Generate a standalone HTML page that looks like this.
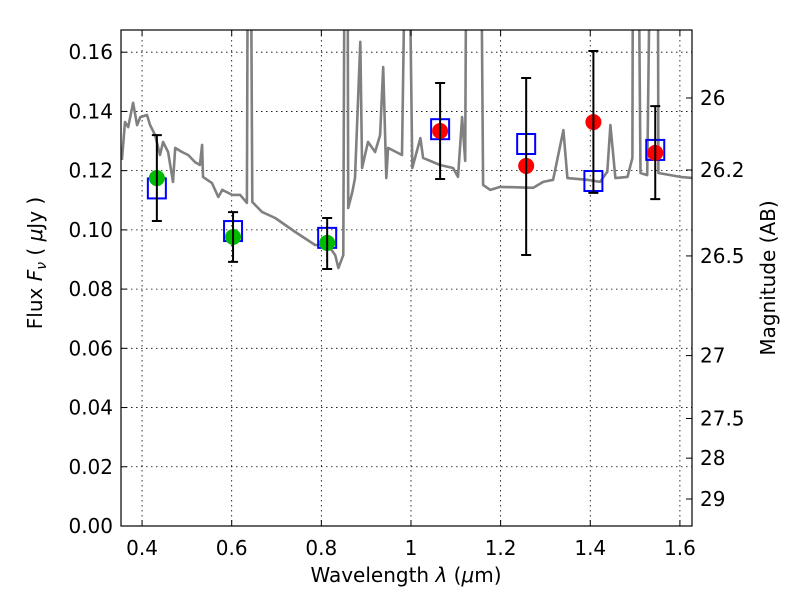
<!DOCTYPE html>
<html><head><meta charset="utf-8"><style>
body{margin:0;background:#fff;width:800px;height:600px;overflow:hidden}
svg text{font-family:"DejaVu Sans","Liberation Sans",sans-serif;font-size:20px;fill:#000}
</style></head><body>
<svg id="chart" width="800" height="600" xmlns="http://www.w3.org/2000/svg">
<defs><clipPath id="clip"><rect x="121" y="30" width="571" height="496"/></clipPath></defs>
<rect x="0" y="0" width="800" height="600" fill="#fff"/>
<g id="grid"></g>
<g id="spec" clip-path="url(#clip)"></g>
<g id="marks"></g>
<rect x="121" y="30" width="571" height="496" fill="none" stroke="#000" stroke-width="1.2"/>
<g id="axes"></g>
<text x="406" y="582" text-anchor="middle">Wavelength  <tspan font-style="italic">λ</tspan> (<tspan font-style="italic">μ</tspan>m)</text>
<text transform="translate(42,263) rotate(-90)" text-anchor="middle">Flux  <tspan font-style="italic">F</tspan><tspan font-style="italic" font-size="14" dy="4">ν</tspan><tspan dy="-4">  (  </tspan><tspan font-style="italic">μ</tspan>Jy )</text>
<text transform="translate(775,278) rotate(-90)" text-anchor="middle">Magnitude (AB)</text>
</svg>
<script>
const specWl=[0.355,0.362,0.369,0.380,0.389,0.396,0.411,0.418,0.429,0.440,0.447,0.458,0.469,0.474,0.489,0.503,0.518,0.529,0.534,0.536,0.556,0.570,0.579,0.601,0.619,0.634,0.637,0.641,0.646,0.668,0.697,0.742,0.786,0.815,0.831,0.838,0.849,0.853,0.858,0.860,0.869,0.875,0.887,0.891,0.904,0.920,0.931,0.938,0.945,0.949,0.980,0.992,1.003,1.021,1.027,1.065,1.094,1.105,1.114,1.121,1.125,1.154,1.161,1.177,1.199,1.273,1.295,1.317,1.340,1.349,1.393,1.422,1.438,1.445,1.456,1.483,1.494,1.496,1.505,1.512,1.527,1.538,1.550,1.552,1.601,1.630];
const specFlux=[.1236,.1364,.1347,.1429,.1354,.1381,.1388,.1354,.1320,.1253,.1297,.1263,.1162,.1277,.1263,.1253,.1229,.1219,.1287,.1179,.1158,.1111,.1135,.1118,.1118,.1091,.25,.25,.1094,.1060,.1040,.0993,.0949,.0949,.0915,.0871,.0915,.25,.25,.1074,.1128,.1175,.1635,.1209,.1297,.1263,.1320,.1550,.1175,.1277,.1253,.25,.1209,.1310,.1243,.1219,.1209,.1179,.1381,.1233,.25,.25,.1152,.1135,.1145,.1142,.1162,.1169,.1337,.1175,.1169,.1162,.1196,.1354,.1175,.1179,.1243,.25,.25,.1192,.1185,.25,.25,.1192,.1179,.1175];
const obsWl=[0.433,0.603,0.813,1.065,1.257,1.407,1.545];
const obsFlux=[0.1175,0.0976,0.0956,0.1334,0.1216,0.1364,0.1260];
const obsErrHi=[0.132,0.106,0.104,0.1496,0.1513,0.1604,0.1418];
const obsErrLo=[0.103,0.0892,0.0868,0.1172,0.0915,0.1125,0.1104];
const obsColor=['#00bb00','#00bb00','#00bb00','#ff0000','#ff0000','#ff0000','#ff0000'];
const modelFlux=[0.114,0.0996,0.0973,0.134,0.129,0.1165,0.127];
const xTicks=[0.4,0.6,0.8,1.0,1.2,1.4,1.6];
const xTickLabels=['0.4','0.6','0.8','1','1.2','1.4','1.6'];
const yTicks=[0,0.02,0.04,0.06,0.08,0.10,0.12,0.14,0.16];
const yTickLabels=['0.00','0.02','0.04','0.06','0.08','0.10','0.12','0.14','0.16'];
const magTicks=[26,26.2,26.5,27,27.5,28,29];
const magTickLabels=['26','26.2','26.5','27','27.5','28','29'];

const L=121,R=692,T=30,B=526,X0=0.353,X1=1.627,Y0=0,Y1=0.1675;
const sx=v=>L+(v-X0)/(X1-X0)*(R-L);
const sy=v=>B-(v-Y0)/(Y1-Y0)*(B-T);
const NS='http://www.w3.org/2000/svg';
function mk(tag,attrs,parent){const e=document.createElementNS(NS,tag);for(const k in attrs)e.setAttribute(k,attrs[k]);parent.appendChild(e);return e;}
const grid=document.getElementById('grid'),axes=document.getElementById('axes'),spec=document.getElementById('spec'),marks=document.getElementById('marks');

xTicks.forEach((t,i)=>{const x=sx(t);
 const g=mk('line',{x1:x,x2:x,y1:T,y2:B,stroke:'#000','stroke-width':0.8,'stroke-dasharray':'1.5,3.5'},grid);
 
 
 mk('line',{x1:x,x2:x,y1:B,y2:B-6,stroke:'#000'},axes);
 mk('line',{x1:x,x2:x,y1:T,y2:T+6,stroke:'#000'},axes);
 const tx=mk('text',{x:x,y:B+29,'text-anchor':'middle'},axes);tx.textContent=xTickLabels[i];
 
 
});
yTicks.forEach((t,i)=>{const y=sy(t);
 const g=mk('line',{x1:L,x2:R,y1:y,y2:y,stroke:'#000','stroke-width':0.8,'stroke-dasharray':'1.5,3.5'},grid);
 
 
 mk('line',{x1:L,x2:L+6,y1:y,y2:y,stroke:'#000'},axes);
 const tx=mk('text',{x:L-8,y:y+7,'text-anchor':'end'},axes);tx.textContent=yTickLabels[i];
 
 
});
magTicks.forEach((m,i)=>{const f=Math.pow(10,(23.9-m)/2.5);const y=sy(f);
 mk('line',{x1:R,x2:R-6,y1:y,y2:y,stroke:'#000'},axes);
 const tx=mk('text',{x:R+8,y:y+7,'text-anchor':'start'},axes);tx.textContent=magTickLabels[i];
 
 
});
let d='';specWl.forEach((w,i)=>{d+=(i?'L':'M')+sx(w).toFixed(1)+','+sy(specFlux[i]).toFixed(1);});
const p=mk('path',{d:d,fill:'none',stroke:'#808080','stroke-width':2.6,'stroke-linejoin':'round'},spec);



obsWl.forEach((w,i)=>{const x=sx(w);
 const sq=mk('rect',{x:x-9,y:sy(modelFlux[i])-10,width:18,height:20,fill:'none',stroke:'#0000ff','stroke-width':2},marks);
 
 
 const c=mk('circle',{cx:x,cy:sy(obsFlux[i]),r:8,fill:obsColor[i]},marks);
 
 
 const yh=sy(obsErrHi[i]),yl=sy(obsErrLo[i]);
 const eb=mk('path',{d:`M${x},${yh}L${x},${yl}M${x-5},${yh}L${x+5},${yh}M${x-5},${yl}L${x+5},${yl}`,stroke:'#000','stroke-width':2,fill:'none'},marks);
 
 
});
</script>
</body></html>
